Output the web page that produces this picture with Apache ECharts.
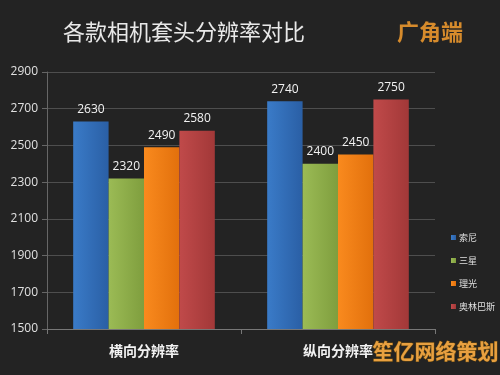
<!DOCTYPE html>
<html><head><meta charset="utf-8">
<script src="https://cdn.jsdelivr.net/npm/echarts@6/dist/echarts.min.js"></script>
<style>html,body{margin:0;padding:0;background:#232323;}#c{width:500px;height:375px;}</style>
</head><body><div id="c"></div>
<script>
const categories = ['横向分辨率', '纵向分辨率'];
const seriesNames = ['索尼', '三星', '理光', '奥林巴斯'];
const sony = [2630, 2740];
const samsung = [2320, 2400];
const ricoh = [2490, 2450];
const olympus = [2580, 2750];
const yTicks = [1500, 1700, 1900, 2100, 2300, 2500, 2700, 2900];

const colors = [
  ['#3a7bc8', '#2a5fa5'],
  ['#9bbb55', '#7f9e3e'],
  ['#f98a1e', '#e2700c'],
  ['#c04a4a', '#a23838']
];
const values = [sony, samsung, ricoh, olympus];
const font = '"Noto Sans CJK SC", "Noto Sans", sans-serif';

const chart = echarts.init(document.getElementById('c'));
chart.setOption({
  backgroundColor: '#232323',
  animation: false,
  title: [
    { text: '各款相机套头分辨率对比', left: 58, top: 16, textStyle: { color: '#e8e8e8', fontSize: 22, fontWeight: 'normal', fontFamily: font } },
    { text: '广角端', left: 392, top: 16, textStyle: { color: '#d68b2c', fontSize: 22, fontWeight: 'bold', fontFamily: font } }
  ],
  legend: {
    orient: 'vertical', left: 446, top: 228, itemGap: 14,
    itemWidth: 5, itemHeight: 5, icon: 'rect',
    textStyle: { color: '#e0e0e0', fontSize: 9, fontFamily: font, padding: [0, 0, 0, -2] },
    data: seriesNames
  },
  grid: { left: 47, right: 65, top: 72, bottom: 46, containLabel: false },
  xAxis: {
    type: 'category', data: categories,
    axisLine: { lineStyle: { color: '#777' } },
    axisTick: { show: true, length: 5, lineStyle: { color: '#777' } },
    axisLabel: { color: '#f2f2f2', fontSize: 14, fontWeight: 'bold', fontFamily: font, margin: 15 }
  },
  yAxis: {
    type: 'value', min: yTicks[0], max: yTicks[yTicks.length - 1], interval: 200,
    axisLine: { show: true, lineStyle: { color: '#666' } },
    axisTick: { show: true, length: 5, lineStyle: { color: '#666' } },
    axisLabel: { color: '#e0e0e0', fontSize: 12, fontFamily: '"Open Sans", sans-serif', margin: 9, formatter: v => String(v) },
    splitLine: { lineStyle: { color: '#4e4e4e' } }
  },
  series: seriesNames.map((n, i) => ({
    name: n, type: 'bar', data: values[i],
    barGap: '0%', barCategoryGap: '27%',
    itemStyle: {
      color: new echarts.graphic.LinearGradient(0, 0, 1, 0, [
        { offset: 0, color: colors[i][0] }, { offset: 1, color: colors[i][1] }
      ])
    },
    label: { show: true, position: 'top', color: '#f2f2f2', fontSize: 12, fontFamily: '"Open Sans", sans-serif', distance: 6 }
  })),
  graphic: [
    { type: 'text', left: 372, top: 340, z: 100,
      style: { text: '笙亿网络策划', fill: '#e8a040', font: 'bold 21px "Noto Sans CJK SC", sans-serif', stroke: '#6a4a10', lineWidth: 1 } }
  ]
});
</script></body></html>
